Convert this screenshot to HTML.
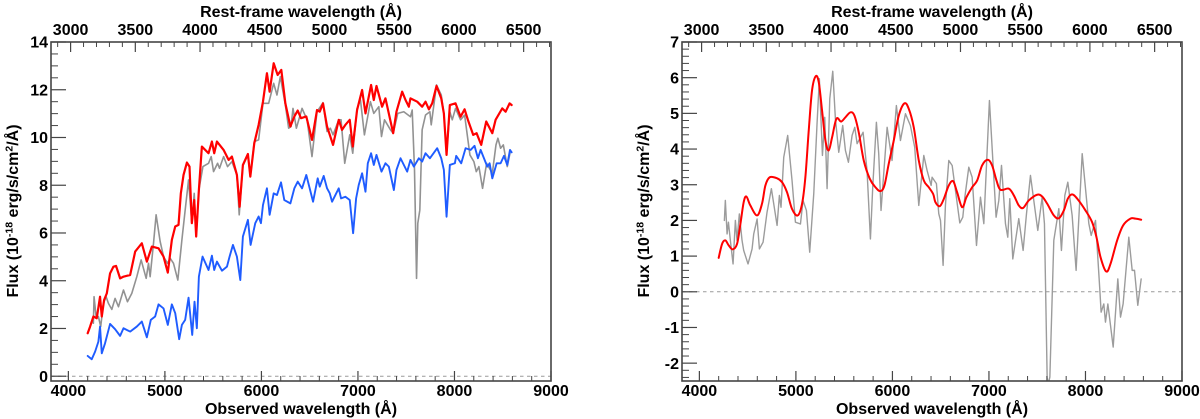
<!DOCTYPE html>
<html lang="en">
<head>
<meta charset="utf-8">
<title>Flux spectra</title>
<style>
html,body{margin:0;padding:0;background:#fff;width:1200px;height:419px;overflow:hidden}
svg{display:block}
text{font-family:"Liberation Sans",sans-serif;font-weight:bold;fill:#000}
.tick{font-size:16px}
.title{font-size:16px}
</style>
</head>
<body>
<svg id="chart" xmlns="http://www.w3.org/2000/svg" width="1200" height="419" viewBox="0 0 1200 419">
<defs>
<clipPath id="clip-left"><rect x="51" y="42" width="500" height="339"/></clipPath>
<clipPath id="clip-right"><rect x="682" y="42" width="500" height="339"/></clipPath>
</defs>
</svg>
<script>
// Left panel: gray observed spectrum
const leftGrayWave = [4259,4266,4287,4311,4335,4363,4391,4415,4450,4484,4519,4571,4612,4657,4709,4754,4806,4830,4847,4882,4909,4951,4986,5027,5055,5089,5134,5176,5210,5245,5279,5304,5324,5352,5394,5452,5480,5504,5546,5566,5608,5649,5694,5746,5770,5808,5860,5885,5926,5971,6016,6075,6127,6161,6196,6248,6282,6307,6327,6362,6421,6473,6524,6576,6638,6680,6714,6742,6801,6825,6863,6915,6946,6991,7026,7067,7129,7164,7216,7244,7275,7337,7365,7413,7475,7544,7562,7586,7607,7620,7641,7665,7700,7745,7759,7814,7863,7890,7918,7952,7977,8011,8063,8105,8160,8201,8226,8253,8291,8333,8392,8430,8450,8478,8506,8547,8575];
const leftGrayFlux = [2.22,3.33,2.50,2.50,2.08,3.05,3.33,3.05,2.80,3.26,2.91,3.61,3.12,3.47,4.17,4.87,4.10,4.73,4.17,5.57,6.76,5.64,5.01,4.73,4.94,4.73,4.03,5.71,6.96,8.22,6.41,7.66,5.85,7.80,8.78,8.92,9.20,8.57,8.92,8.71,9.20,8.78,8.99,8.43,6.76,8.81,9.27,8.36,9.83,9.90,11.43,11.43,12.27,11.78,12.55,11.36,10.39,10.46,11.22,10.39,11.22,10.74,9.20,11.08,11.46,10.25,10.39,10.11,10.74,10.74,8.92,10.11,9.34,11.22,11.57,10.11,11.50,11.01,11.29,10.04,10.74,10.32,10.18,11.01,11.08,10.87,11.15,8.64,4.10,6.41,6.96,10.32,10.94,11.08,10.53,12.20,11.78,11.01,9.34,11.08,10.74,11.22,10.74,10.94,9.27,8.99,8.57,8.78,7.87,8.92,8.50,9.69,9.97,9.55,9.69,8.78,9.34];

// Left panel: blue corrected spectrum
const leftBlueWave = [4200,4242,4277,4311,4328,4346,4380,4432,4484,4536,4571,4640,4709,4761,4813,4854,4899,4934,4986,5030,5072,5107,5148,5176,5210,5245,5283,5307,5331,5352,5390,5452,5487,5511,5539,5591,5643,5670,5705,5746,5781,5808,5860,5888,5936,5971,5995,6016,6057,6085,6127,6161,6203,6237,6300,6341,6376,6421,6465,6535,6583,6604,6645,6680,6708,6732,6801,6825,6870,6915,6950,6981,7008,7043,7078,7102,7136,7164,7192,7244,7285,7320,7372,7399,7441,7510,7544,7579,7631,7665,7700,7745,7821,7863,7890,7918,7952,8004,8018,8070,8115,8167,8208,8243,8271,8340,8364,8392,8437,8478,8513,8547,8575,8592];
const leftBlueFlux = [0.85,0.71,1.03,1.45,2.08,0.96,1.38,2.19,1.97,1.69,2.01,1.87,2.08,2.29,1.63,2.36,2.50,3.01,2.84,2.15,3.01,2.64,1.55,2.15,2.36,3.29,1.73,3.12,2.01,4.17,5.01,4.45,5.05,4.45,4.80,4.42,4.59,5.01,5.50,5.01,4.03,5.85,6.55,5.50,6.41,6.69,6.41,7.17,7.87,6.76,7.66,7.59,8.12,7.38,7.24,7.87,8.15,7.87,8.43,7.31,8.29,7.94,8.39,7.87,7.66,7.31,7.87,7.45,7.52,7.38,5.99,7.45,8.01,8.50,7.73,8.92,9.34,8.85,9.27,8.57,8.92,8.78,7.80,8.64,9.13,8.57,9.06,8.78,9.13,8.99,9.34,9.13,9.55,9.13,8.64,6.68,8.85,8.92,9.23,8.92,9.55,9.48,9.65,9.13,9.48,8.78,8.92,8.29,8.92,8.92,9.23,8.85,9.48,9.38];

// Left panel: red scaled spectrum
const leftRedWave = [4200,4225,4259,4294,4328,4346,4370,4398,4432,4467,4494,4536,4571,4640,4692,4761,4813,4865,4934,4986,5030,5072,5107,5141,5165,5193,5228,5255,5279,5304,5324,5352,5383,5452,5487,5511,5539,5608,5660,5694,5746,5774,5808,5860,5885,5926,5971,6016,6057,6085,6127,6168,6206,6248,6300,6341,6376,6410,6465,6524,6576,6604,6638,6680,6742,6801,6835,6870,6915,6946,6991,7043,7078,7136,7164,7192,7250,7285,7365,7399,7458,7493,7527,7544,7614,7665,7700,7735,7769,7814,7863,7890,7918,7952,8011,8063,8105,8139,8194,8229,8277,8329,8392,8426,8495,8530,8571,8592];
const leftRedFlux = [1.80,2.08,2.50,2.43,3.33,2.50,3.19,3.47,4.31,4.59,4.62,4.10,4.17,4.24,5.22,5.57,4.80,5.43,5.36,5.01,4.34,5.71,6.27,6.34,7.66,8.43,8.95,8.78,6.41,7.38,5.85,7.80,9.62,9.34,9.83,9.34,9.83,9.48,9.06,9.20,8.43,7.10,8.85,9.31,8.36,9.76,10.53,11.50,12.69,11.92,13.11,12.62,12.83,11.43,10.46,10.88,11.13,10.81,10.88,9.90,11.15,11.08,11.43,10.46,9.69,10.74,10.32,10.53,10.74,9.62,11.15,11.99,11.01,12.20,11.57,12.16,11.29,11.64,10.18,11.08,11.92,11.57,11.29,11.64,11.50,11.29,11.50,11.18,11.43,12.16,11.64,11.01,9.27,11.36,11.43,10.87,11.18,10.74,10.11,10.18,9.69,10.67,10.18,10.74,11.22,11.08,11.43,11.36];

// Right panel: gray residual spectrum
const rightGrayWave = [4259,4269,4287,4301,4321,4349,4373,4390,4414,4442,4459,4504,4546,4563,4598,4622,4660,4701,4746,4770,4805,4829,4846,4874,4915,4960,4995,5047,5074,5109,5143,5185,5219,5243,5275,5299,5323,5351,5382,5409,5444,5485,5513,5544,5582,5610,5634,5696,5737,5772,5796,5834,5858,5882,5945,5996,6041,6083,6135,6186,6231,6273,6325,6359,6401,6411,6456,6480,6498,6525,6549,6584,6619,6653,6698,6729,6750,6791,6826,6871,6912,6947,7005,7074,7102,7130,7171,7195,7216,7247,7309,7354,7389,7430,7506,7551,7575,7603,7613,7631,7672,7724,7751,7786,7817,7862,7903,7966,8035,8059,8104,8149,8162,8190,8207,8232,8287,8335,8363,8390,8449,8484,8508,8542,8577];
const rightGrayFlux = [2.00,2.56,1.62,1.95,1.44,0.78,2.00,1.44,2.18,1.44,1.16,0.78,1.20,1.62,2.04,1.20,1.39,2.23,2.89,2.47,1.86,2.70,2.37,3.77,4.38,3.12,1.95,1.90,2.56,2.28,1.11,2.75,4.71,5.97,3.82,4.89,2.89,5.41,6.18,4.85,3.91,4.66,3.96,3.63,4.38,4.61,4.15,4.47,3.40,1.48,2.93,4.75,3.87,2.28,4.61,3.68,5.22,4.24,4.99,4.66,4.05,2.42,3.82,3.40,2.98,3.21,3.03,2.19,2.00,0.74,2.42,3.68,3.54,2.84,1.93,2.09,2.65,3.49,3.21,1.30,2.65,1.91,5.36,2.09,2.56,3.54,1.91,1.53,2.61,0.92,2.05,1.16,2.19,3.26,1.72,2.65,1.91,-2.39,-2.60,-2.39,1.44,2.33,1.16,2.70,3.07,2.14,0.60,3.87,1.91,1.58,2.00,0.04,-0.57,-0.34,-0.85,-0.34,-1.55,0.36,-0.71,-0.34,1.53,0.60,0.60,-0.38,0.36];

// Right panel: red smooth model
const rightRedWave = [4200,4235,4269,4304,4345,4390,4425,4459,4487,4528,4598,4649,4684,4729,4805,4857,4908,4960,5019,5064,5098,5133,5167,5205,5237,5271,5306,5340,5375,5420,5468,5513,5565,5606,5651,5703,5765,5824,5876,5917,5962,6014,6066,6124,6169,6221,6273,6325,6376,6422,6446,6491,6532,6584,6629,6670,6722,6767,6826,6878,6929,6988,7033,7078,7119,7206,7258,7309,7354,7413,7499,7551,7603,7672,7724,7776,7817,7862,7914,8000,8069,8114,8156,8214,8259,8328,8390,8466,8518,8577];
const rightRedFlux = [0.95,1.34,1.44,1.30,1.19,1.34,1.90,2.51,2.67,2.42,2.14,2.47,2.98,3.21,3.18,3.07,2.79,2.32,2.14,2.47,3.21,4.52,5.64,6.04,5.87,5.08,4.24,3.96,4.33,4.85,4.77,4.89,5.03,4.94,4.47,3.68,3.17,2.93,2.82,2.98,3.59,4.24,4.94,5.28,5.13,4.61,3.68,3.12,2.93,2.74,2.51,2.40,2.60,2.98,3.10,2.79,2.37,2.65,2.93,3.12,3.54,3.70,3.54,3.12,2.86,2.89,2.70,2.42,2.35,2.56,2.72,2.67,2.47,2.14,2.06,2.28,2.61,2.73,2.61,2.28,1.95,1.53,0.97,0.57,0.78,1.44,1.86,2.05,2.05,2.02];

// Axis tick values
const bottomMajorTicks = [4000,5000,6000,7000,8000,9000];
const bottomMinorTicks = [4200,4400,4600,4800,5200,5400,5600,5800,6200,6400,6600,6800,7200,7400,7600,7800,8200,8400,8600,8800];
const topMajorTicks = [3000,3500,4000,4500,5000,5500,6000,6500];
const topMinorTicks = [2900,3100,3200,3300,3400,3600,3700,3800,3900,4100,4200,4300,4400,4600,4700,4800,4900,5100,5200,5300,5400,5600,5700,5800,5900,6100,6200,6300,6400,6600,6700];
const leftYMajorTicks = [0,2,4,6,8,10,12,14];
const leftYMinorTicks = [0.5,1,1.5,2.5,3,3.5,4.5,5,5.5,6.5,7,7.5,8.5,9,9.5,10.5,11,11.5,12.5,13,13.5];
const rightYMajorTicks = [-2,-1,0,1,2,3,4,5,6,7];
const rightYMinorTicks = [-2.4,-2.2,-1.8,-1.6,-1.4,-1.2,-0.8,-0.6,-0.4,-0.2,0.2,0.4,0.6,0.8,1.2,1.4,1.6,1.8,2.2,2.4,2.6,2.8,3.2,3.4,3.6,3.8,4.2,4.4,4.6,4.8,5.2,5.4,5.6,5.8,6.2,6.4,6.6,6.8];

const svg = document.getElementById('chart');
const NS = 'http://www.w3.org/2000/svg';
const REDSHIFT_FACTOR = 1.341;
const AXIS_COLOR = '#454545';

function make(tag, attrs, parent) {
  const el = document.createElementNS(NS, tag);
  for (const k in attrs) el.setAttribute(k, attrs[k]);
  (parent || svg).appendChild(el);
  return el;
}

function tickMark(g, x1, y1, x2, y2, name, w) {
  const t = make('line', {x1: x1, y1: y1, x2: x2, y2: y2, stroke: AXIS_COLOR, 'stroke-width': w}, g);
  
  
}

function tickText(g, x, y, anchor, str, name) {
  const t = make('text', {x: x, y: y, 'text-anchor': anchor, class: 'tick'}, g);
  t.textContent = str;
  
  
}

function drawSeries(parent, sx, sy, waves, fluxes, color, width, smooth, name, clip) {
  let d = '';
  const pts = waves.map((w, i) => [sx(w), sy(fluxes[i])]);
  if (!smooth) {
    d = pts.map((p, i) => (i ? 'L' : 'M') + p[0].toFixed(2) + ' ' + p[1].toFixed(2)).join('');
  } else {
    d = 'M' + pts[0][0].toFixed(2) + ' ' + pts[0][1].toFixed(2);
    for (let i = 0; i < pts.length - 1; i++) {
      const p0 = pts[Math.max(i - 1, 0)], p1 = pts[i], p2 = pts[i + 1], p3 = pts[Math.min(i + 2, pts.length - 1)];
      const c1x = p1[0] + (p2[0] - p0[0]) / 6, c1y = p1[1] + (p2[1] - p0[1]) / 6;
      const c2x = p2[0] - (p3[0] - p1[0]) / 6, c2y = p2[1] - (p3[1] - p1[1]) / 6;
      d += 'C' + c1x.toFixed(2) + ' ' + c1y.toFixed(2) + ' ' + c2x.toFixed(2) + ' ' + c2y.toFixed(2) + ' ' + p2[0].toFixed(2) + ' ' + p2[1].toFixed(2);
    }
  }
  const path = make('path', {d: d, fill: 'none', stroke: color, 'stroke-width': width, 'stroke-linejoin': 'round', 'stroke-linecap': 'round', 'clip-path': 'url(#' + clip + ')'}, parent);
  
  
}

function drawPanel(cfg) {
  const g = make('g', {});
  
  
  const L = cfg.left, R = cfg.left + 500, T = 42, B = 381;
  const sx = w => L + (w - 3820) / (9000 - 3820) * (R - L);
  const sy = f => B - (f - cfg.yMin) / (cfg.yMax - cfg.yMin) * (B - T);
  const clip = cfg.clip;

  const zero = make('line', {x1: L, y1: sy(0), x2: R, y2: sy(0), stroke: '#9a9a9a', 'stroke-width': 1, 'stroke-dasharray': '3.5 3.5'}, g);
  
  

  cfg.series.forEach(s => drawSeries(g, sx, sy, s.w, s.f, s.color, s.width, s.smooth, s.name, clip));

  bottomMajorTicks.forEach(v => {
    tickMark(g, sx(v), B, sx(v), B - 10, 'x-major-tick', 1.2);
    tickText(g, sx(v), 396, 'middle', String(v), 'x-tick-label');
  });
  bottomMinorTicks.forEach(v => tickMark(g, sx(v), B, sx(v), B - 5, 'x-minor-tick', 1));
  topMajorTicks.forEach(v => {
    const x = sx(v * REDSHIFT_FACTOR);
    tickMark(g, x, T, x, T + 10, 'top-major-tick', 1.2);
    tickText(g, x, 35, 'middle', String(v), 'top-tick-label');
  });
  topMinorTicks.forEach(v => {
    const x = sx(v * REDSHIFT_FACTOR);
    tickMark(g, x, T, x, T + 5, 'top-minor-tick', 1);
  });
  cfg.yMajor.forEach(v => {
    tickMark(g, L, sy(v), L + 15, sy(v), 'y-major-tick', 1.2);
    tickText(g, L - 3, sy(v) + 5.6, 'end', String(v), 'y-tick-label');
  });
  cfg.yMinor.forEach(v => tickMark(g, L, sy(v), L + 7, sy(v), 'y-minor-tick', 1));

  const frame = make('rect', {x: L, y: T, width: R - L, height: B - T, fill: 'none', stroke: AXIS_COLOR, 'stroke-width': 1.6}, g);
  
  

  const topTitle = make('text', {x: L + 250, y: 17, 'text-anchor': 'middle', class: 'title'}, g);
  topTitle.textContent = 'Rest-frame wavelength (Å)';
  
  

  const botTitle = make('text', {x: L + 250, y: 414, 'text-anchor': 'middle', class: 'title'}, g);
  botTitle.textContent = 'Observed wavelength (Å)';
  
  

  const yTitle = make('text', {transform: 'translate(' + cfg.yTitleX + ' 211) rotate(-90)', 'text-anchor': 'middle', class: 'title'}, g);
  
  
  yTitle.innerHTML = 'Flux (10<tspan dy="-5.5" font-size="10.5">-18</tspan><tspan dy="5.5"> erg/s/cm</tspan><tspan dy="-5.5" font-size="10.5">2</tspan><tspan dy="5.5">/Å)</tspan>';
}

drawPanel({
  name: 'left-panel', left: 51, yMin: -0.2, yMax: 14, clip: 'clip-left', yTitleX: 18,
  yMajor: leftYMajorTicks, yMinor: leftYMinorTicks,
  series: [
    {w: leftGrayWave, f: leftGrayFlux, color: '#929292', width: 1.6, smooth: false, name: 'observed-spectrum-gray'},
    {w: leftBlueWave, f: leftBlueFlux, color: '#1f5cff', width: 1.9, smooth: false, name: 'blue-spectrum'},
    {w: leftRedWave, f: leftRedFlux, color: '#ff0000', width: 2.2, smooth: false, name: 'red-spectrum'}
  ]
});

drawPanel({
  name: 'right-panel', left: 682, yMin: -2.5, yMax: 7, clip: 'clip-right', yTitleX: 649,
  yMajor: rightYMajorTicks, yMinor: rightYMinorTicks,
  series: [
    {w: rightGrayWave, f: rightGrayFlux, color: '#9c9c9c', width: 1.4, smooth: false, name: 'residual-spectrum-gray'},
    {w: rightRedWave, f: rightRedFlux, color: '#ff0000', width: 2, smooth: true, name: 'smooth-model-red'}
  ]
});
</script>
</body>
</html>
